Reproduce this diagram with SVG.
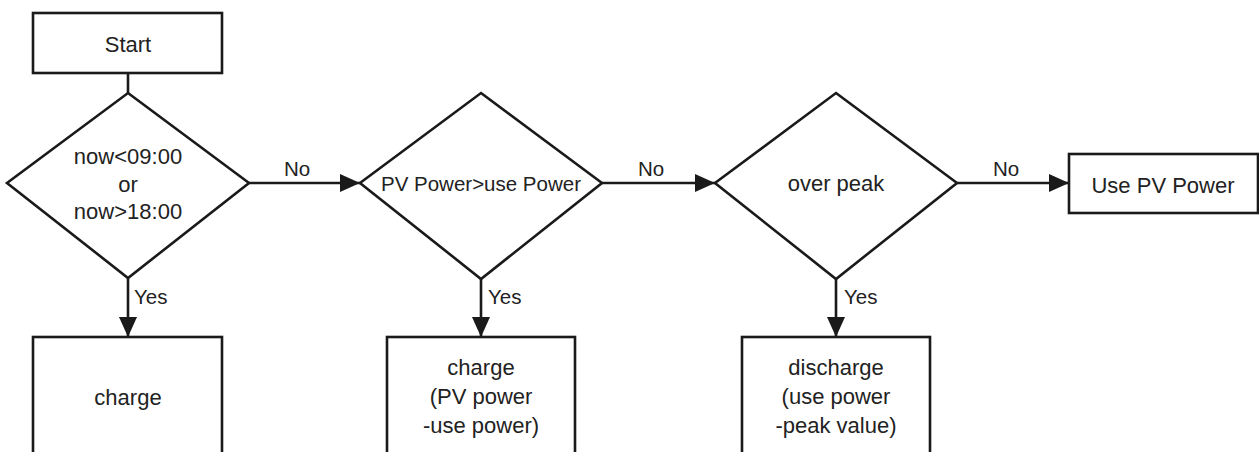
<svg xmlns="http://www.w3.org/2000/svg" width="1259" height="452" viewBox="0 0 1259 452">
  <style>
    .shape { fill: #ffffff; stroke: #1a1a1a; stroke-width: 2.6; stroke-linejoin: miter; }
    .edge { fill: none; stroke: #1a1a1a; stroke-width: 2.6; }
    .label { font-family: "Liberation Sans", Arial, sans-serif; font-size: 22px; fill: #222222; text-anchor: middle; }
    .label.compact { font-size: 20.5px; }
    .tag { font-family: "Liberation Sans", Arial, sans-serif; font-size: 20.5px; fill: #222222; }
  </style>
  <defs>
    <marker id="arrow" markerUnits="userSpaceOnUse" markerWidth="22" markerHeight="18" refX="20" refY="9" orient="auto">
      <path d="M0,0 L20,9 L0,18 Z" fill="#1a1a1a"/>
    </marker>
  </defs>

  <rect width="1259" height="452" fill="#ffffff"/>

  <!-- connectors -->
  <g id="connectors">
    <line class="edge" x1="128" y1="73" x2="128" y2="93"/>
    <line class="edge" x1="249" y1="183" x2="360" y2="183" marker-end="url(#arrow)"/>
    <text class="tag" x="284" y="176">No</text>
    <line class="edge" x1="128" y1="278" x2="128" y2="337" marker-end="url(#arrow)"/>
    <text class="tag" x="134" y="304">Yes</text>
    <line class="edge" x1="602" y1="183" x2="715" y2="183" marker-end="url(#arrow)"/>
    <text class="tag" x="638" y="176">No</text>
    <line class="edge" x1="481" y1="279" x2="481" y2="337" marker-end="url(#arrow)"/>
    <text class="tag" x="488" y="304">Yes</text>
    <line class="edge" x1="957" y1="183" x2="1069" y2="183" marker-end="url(#arrow)"/>
    <text class="tag" x="993" y="176">No</text>
    <line class="edge" x1="836" y1="279" x2="836" y2="337" marker-end="url(#arrow)"/>
    <text class="tag" x="844" y="304">Yes</text>
  </g>

  <g id="start">
    <rect class="shape" x="33" y="13" width="189" height="60"/>
    <text class="label" x="128" y="52">Start</text>
  </g>

  <g id="time-check">
    <polygon class="shape" points="128,93 249,183 128,278 7,183"/>
    <text class="label" x="128" y="164">now&lt;09:00</text>
    <text class="label" x="128" y="192">or</text>
    <text class="label" x="128" y="219">now&gt;18:00</text>
  </g>

  <g id="pv-check">
    <polygon class="shape" points="481,93 602,183 481,279 360,183"/>
    <text class="label compact" x="481" y="191">PV Power&gt;use Power</text>
  </g>

  <g id="peak-check">
    <polygon class="shape" points="836,93 957,183 836,279 715,183"/>
    <text class="label" x="836" y="191">over peak</text>
  </g>

  <g id="use-pv">
    <rect class="shape" x="1069" y="154" width="189" height="59"/>
    <text class="label" x="1163" y="193">Use PV Power</text>
  </g>

  <g id="charge-night">
    <rect class="shape" x="33" y="337" width="189" height="140"/>
    <text class="label" x="128" y="405">charge</text>
  </g>

  <g id="charge-surplus">
    <rect class="shape" x="387" y="337" width="188" height="140"/>
    <text class="label" x="481" y="375">charge</text>
    <text class="label" x="481" y="404">(PV power</text>
    <text class="label" x="481" y="433">-use power)</text>
  </g>

  <g id="discharge">
    <rect class="shape" x="742" y="337" width="188" height="140"/>
    <text class="label" x="836" y="375">discharge</text>
    <text class="label" x="836" y="404">(use power</text>
    <text class="label" x="836" y="433">-peak value)</text>
  </g>
</svg>
